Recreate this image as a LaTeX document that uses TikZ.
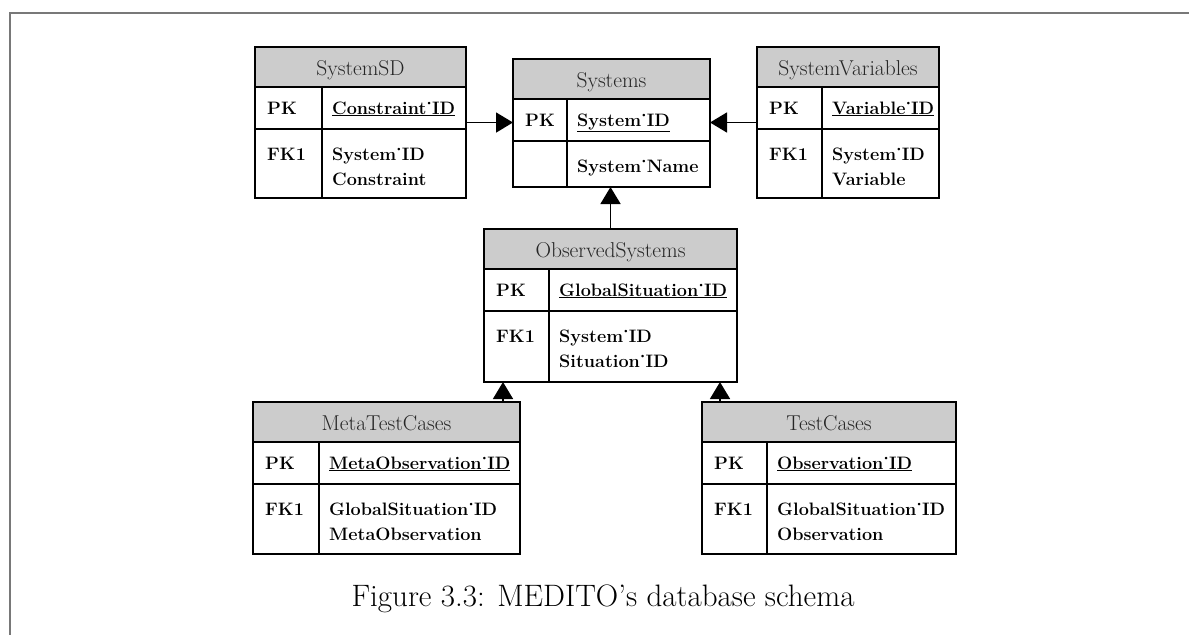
\documentclass[tikz,border=0pt]{standalone}
\usepackage{fontspec}
\usetikzlibrary{arrows.meta}

\definecolor{headgray}{RGB}{204,204,204}
\definecolor{framegray}{RGB}{120,120,120}
\newcommand\dotsep{\char"02D9}

\tikzset{
  entity/.style={draw, line width=1.6pt, inner sep=0pt, outer sep=0pt, anchor=north west},
  rule/.style={line width=1.6pt},
  headtext/.style={inner sep=0pt, anchor=base, text=black!85, font=\fontsize{21.5}{25}\selectfont},
  celltext/.style={inner sep=0pt, anchor=base west, font=\bfseries\fontsize{18}{25}\selectfont},
  fkarrow/.style={-{Triangle[width=20pt,length=17pt]}, line width=1.6pt},
}

% one table: #1 name, #2 left, #3 top, #4 right, #5 column rule, #6 bottom,
% #7 title, #8 primary key, #9 {fk label}{field line 1}{field line 2}
\newcommand\fkrows[3]{%
  \node[celltext] (\entName-fk) at (\entX+12,\entY+113) {#1};
  \node[celltext] (\entName-f1) at (\entD+10,\entY+113) {#2};
  \node[celltext] (\entName-f2) at (\entD+10,\entY+138) {#3};
}
\newcommand\entity[9]{%
  \def\entName{#1}\def\entX{#2}\def\entY{#3}\def\entD{#5}%
  \fill[headgray] (#2,#3) rectangle (#4,#3+40);
  \node[entity, minimum width={#4-#2}, minimum height={#6-#3}] (#1) at (#2,#3) {};
  \draw[rule] (#2,#3+40) -- (#4,#3+40);
  \draw[rule] (#2,#3+82) -- (#4,#3+82);
  \draw[rule] (#5,#3+40) -- (#5,#6);
  \node[headtext] (#1-title) at ({(#2+#4)/2},#3+28) {#7};
  \node[celltext] (#1-pk) at (#2+12,#3+67) {PK};
  \node[celltext] (#1-key) at (#5+10,#3+67) {\underline{#8}};
  \fkrows#9
}

\begin{document}
\begin{tikzpicture}[x=1pt,y=-1pt]
  \useasboundingbox (0,0) rectangle (1189,635);
  % page frame
  \draw[framegray, line width=1.2pt] (1189,13) -- (10,13) -- (10,635);

  \entity{sd}{255}{47}{466}{322}{198}{SystemSD}{Constraint\dotsep ID}{{FK1}{System\dotsep ID}{Constraint}}
  \entity{sys}{513}{59}{710}{567}{187}{Systems}{System\dotsep ID}{{}{System\dotsep Name}{}}
  \entity{var}{757}{47}{939}{822}{198}{SystemVariables}{Variable\dotsep ID}{{FK1}{System\dotsep ID}{Variable}}
  \entity{obs}{484}{229}{737}{549}{382}{ObservedSystems}{GlobalSituation\dotsep ID}{{FK1}{System\dotsep ID}{Situation\dotsep ID}}
  \entity{meta}{253}{402}{520}{319}{554}{MetaTestCases}{MetaObservation\dotsep ID}{{FK1}{GlobalSituation\dotsep ID}{MetaObservation}}
  \entity{test}{702}{402}{956}{767}{554}{TestCases}{Observation\dotsep ID}{{FK1}{GlobalSituation\dotsep ID}{Observation}}

  % foreign key references
  \draw[fkarrow] (sd.east) -- (sys.west |- sd.east);
  \draw[fkarrow] (var.west) -- (sys.east |- var.west);
  \draw[fkarrow] (obs.north) -- (obs.north |- sys.south);
  \draw[fkarrow] ([xshift=-17pt]meta.north east) -- ([xshift=-17pt]meta.north east |- obs.south);
  \draw[fkarrow] ([xshift=18pt]test.north west) -- ([xshift=18pt]test.north west |- obs.south);

  \node[inner sep=0pt, anchor=base, font=\fontsize{31}{36}\selectfont] (caption) at (603,606)
    {Figure 3.3: MEDITO’s database schema};
\end{tikzpicture}
\end{document}
